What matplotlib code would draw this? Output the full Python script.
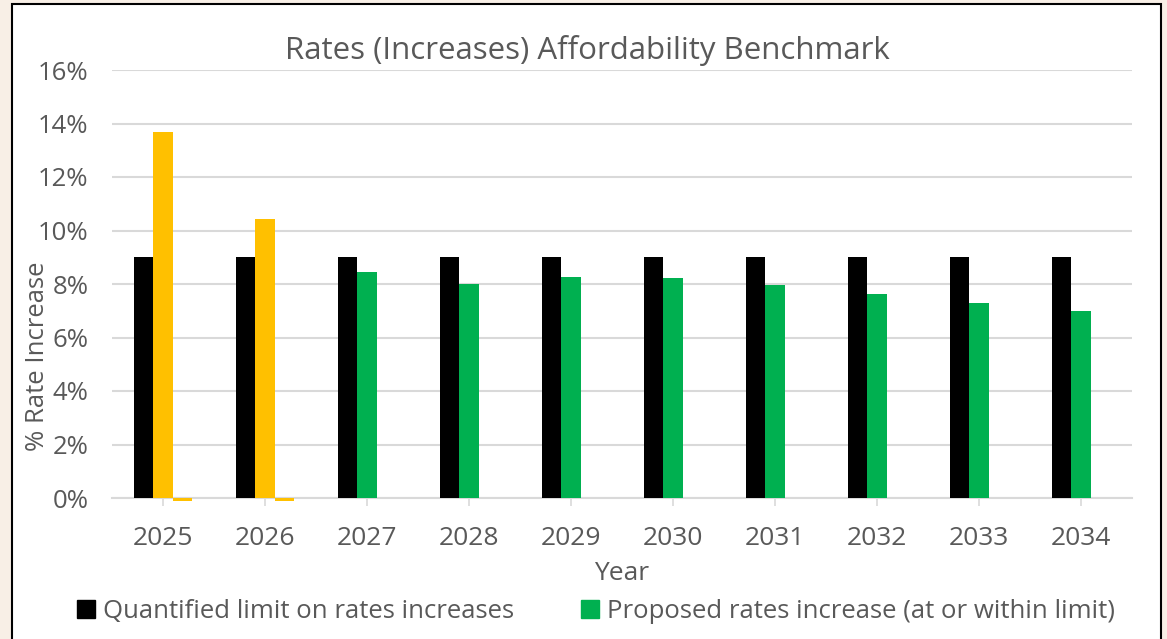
import matplotlib
matplotlib.use("Agg")
import matplotlib.pyplot as plt
import numpy as np
from matplotlib.patches import Rectangle

# data
years = ["2025", "2026", "2027", "2028", "2029", "2030", "2031", "2032", "2033", "2034"]
limit = [9.0, 9.0, 9.0, 9.0, 9.0, 9.0, 9.0, 9.0, 9.0, 9.0]
proposed = [13.68, 10.43, 8.45, 8.0, 8.26, 8.22, 7.97, 7.64, 7.29, 7.0]
above_limit = [-0.1, -0.1, 0, 0, 0, 0, 0, 0, 0, 0]
yticks = [0, 2, 4, 6, 8, 10, 12, 14, 16]

BLACK = "#000000"
YELLOW = "#FFC000"
GREEN = "#00B050"
GREY_TXT = "#595959"
GRID = "#D9D9D9"

plt.rcParams['font.family'] = ['Open Sans', 'DejaVu Sans']

fig = plt.figure(figsize=(11.67, 6.39), dpi=100)
fig.patch.set_facecolor("#F8EFE6")
W, H = 1167, 639
# white chart panel with black border
fig.patches.append(Rectangle((12 / W, -0.05), (1161 - 12) / W, 1.05 - 4 / H,
                             transform=fig.transFigure, facecolor="white",
                             edgecolor=BLACK, linewidth=1.5, zorder=-5))

ax = fig.add_axes([112 / W, 1 - 498 / H, (1132 - 112) / W, (498 - 70) / H])
ax.set_zorder(2)
ax.set_facecolor("white")

x = np.arange(len(years))
w = 0.19
prop_colors = [YELLOW if p > l else GREEN for p, l in zip(proposed, limit)]
ax.bar(x - w, limit, w, color=BLACK, zorder=3)
ax.bar(x, proposed, w, color=prop_colors, zorder=3)
ax.bar(x + w, above_limit, w, color=YELLOW, zorder=3, clip_on=False)

ax.set_xlim(-0.5, len(years) - 0.5)
ax.set_ylim(0, 16)
ax.set_yticks(yticks)
ax.set_yticklabels([f"{v}%" for v in yticks], color=GREY_TXT, fontsize=18.5)
ax.set_xticks(x)
ax.set_xticklabels(years, color=GREY_TXT, fontsize=19)
ax.tick_params(axis="y", length=0, pad=17)
ax.tick_params(axis="x", length=6, color=GRID, width=1.2, pad=14)
ax.yaxis.grid(True, color=GRID, linewidth=1.5, zorder=0)
for s in ["left", "right", "top"]:
    ax.spines[s].set_visible(False)
ax.spines["bottom"].set_color(GRID)
ax.spines["bottom"].set_linewidth(1.5)

ax.set_xlabel("Year", color=GREY_TXT, fontsize=19, labelpad=7)
fig.text(38 / W, 1 - 356 / H, "% Rate Increase", rotation=90, ha="center", va="center",
         color=GREY_TXT, fontsize=18.5)
fig.text(587 / W, 1 - 50 / H, "Rates (Increases) Affordability Benchmark", ha="center",
         va="center", color=GREY_TXT, fontsize=22.5)

handles = [Rectangle((0, 0), 1, 1, color=BLACK), Rectangle((0, 0), 1, 1, color=GREEN)]
fig.legend(handles, ["Quantified limit on rates increases",
                     "Proposed rates increase (at or within limit)"],
           loc="center", bbox_to_anchor=(596 / W, 1 - 611 / H), ncol=2, frameon=False,
           fontsize=18.5, labelcolor=GREY_TXT, handlelength=0.7, handleheight=0.7,
           handletextpad=0.3, columnspacing=2.6)

fig.savefig("out.png", dpi=100, facecolor=fig.get_facecolor())
